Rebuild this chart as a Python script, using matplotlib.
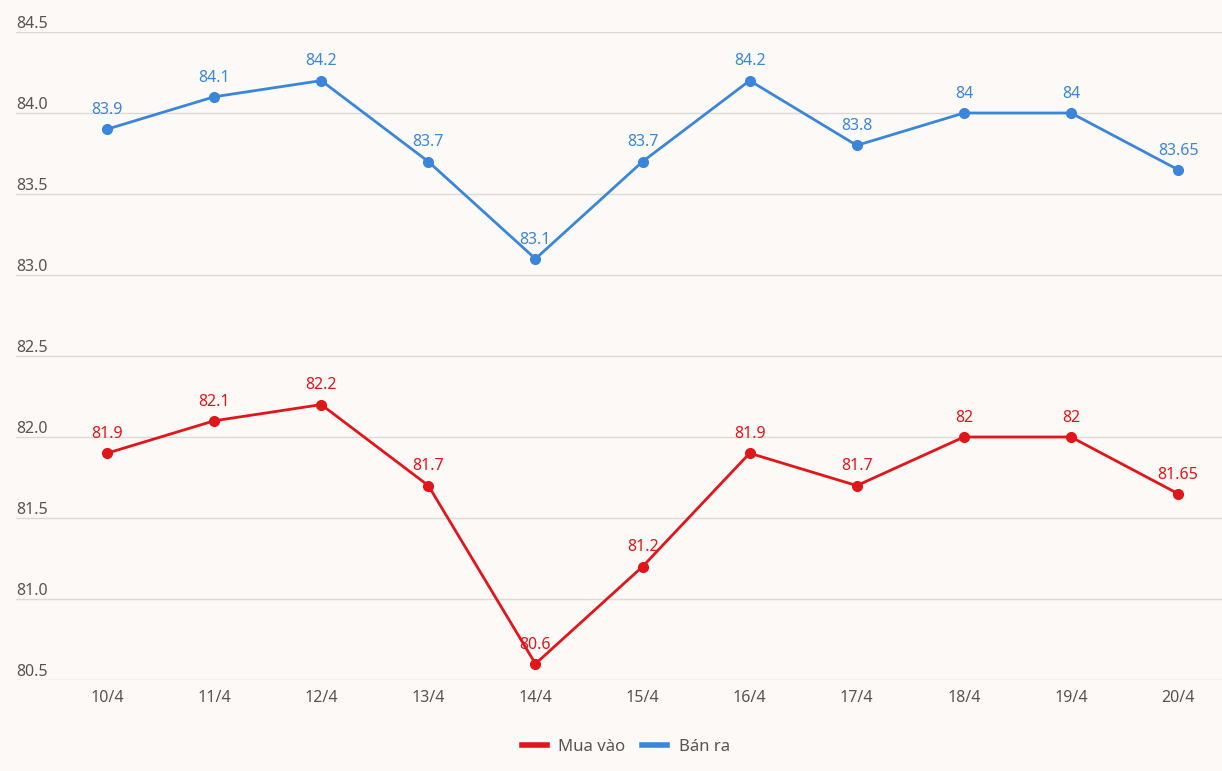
import matplotlib.pyplot as plt
from matplotlib.lines import Line2D
from matplotlib.transforms import blended_transform_factory

# Data
dates = ['10/4', '11/4', '12/4', '13/4', '14/4', '15/4', '16/4', '17/4', '18/4', '19/4', '20/4']
mua_vao = [81.9, 82.1, 82.2, 81.7, 80.6, 81.2, 81.9, 81.7, 82, 82, 81.65]
ban_ra = [83.9, 84.1, 84.2, 83.7, 83.1, 83.7, 84.2, 83.8, 84, 84, 83.65]
mua_labels = ['81.9', '82.1', '82.2', '81.7', '80.6', '81.2', '81.9', '81.7', '82', '82', '81.65']
ban_labels = ['83.9', '84.1', '84.2', '83.7', '83.1', '83.7', '84.2', '83.8', '84', '84', '83.65']
y_ticks = [80.5, 81.0, 81.5, 82.0, 82.5, 83.0, 83.5, 84.0, 84.5]

red = '#e0161b'
blue = '#3a86da'
bg = '#fdf9f6'
text_col = '#555555'

plt.rcParams['font.family'] = ['Noto Sans', 'DejaVu Sans']

fig = plt.figure(figsize=(12.22, 7.71), dpi=100, facecolor=bg)
ax = fig.add_axes([16 / 1222, 91 / 771, 1 - 16 / 1222, 648 / 771])
ax.set_facecolor(bg)

x = list(range(len(dates)))
ax.plot(x, mua_vao, color=red, linewidth=2, marker='o', markersize=7, zorder=3)
ax.plot(x, ban_ra, color=blue, linewidth=2, marker='o', markersize=7, zorder=3)

# nhãn giá trị trên mỗi điểm
for xi, v, lab in zip(x, mua_vao, mua_labels):
    ax.annotate(lab, (xi, v), xytext=(0, 8), textcoords='offset points',
                ha='center', va='bottom', color=red, fontsize=11.5)
for xi, v, lab in zip(x, ban_ra, ban_labels):
    ax.annotate(lab, (xi, v), xytext=(0, 8), textcoords='offset points',
                ha='center', va='bottom', color=blue, fontsize=11.5)

ax.set_xlim(-0.85, 10.41)
ax.set_ylim(80.5, 84.5)
ax.set_yticks(y_ticks)
ax.set_yticklabels([])
ax.tick_params(axis='y', length=0)
ax.set_xticks(x)
ax.set_xticklabels(dates, color=text_col, fontsize=11.5)
ax.tick_params(axis='x', length=0, pad=7)
ax.grid(axis='y', color='#dddad6', linewidth=1)
ax.set_axisbelow(True)
for s in ax.spines.values():
    s.set_visible(False)

# nhãn trục y nằm trên đường lưới
trans = blended_transform_factory(ax.transAxes, ax.transData)
for t in y_ticks:
    ax.text(0, t, f'{t:.1f}', transform=trans, ha='left', va='bottom',
            color=text_col, fontsize=11.5)

handles = [Line2D([0], [0], color=red, linewidth=4),
           Line2D([0], [0], color=blue, linewidth=4)]
fig.legend(handles, ['Mua vào', 'Bán ra'], loc='center', bbox_to_anchor=(0.512, 1 - 747 / 771),
           ncol=2, frameon=False, fontsize=12, handlelength=1.5, handletextpad=0.7,
           columnspacing=1.0, labelcolor=text_col)

fig.savefig('out.png', dpi=100, facecolor=bg)
